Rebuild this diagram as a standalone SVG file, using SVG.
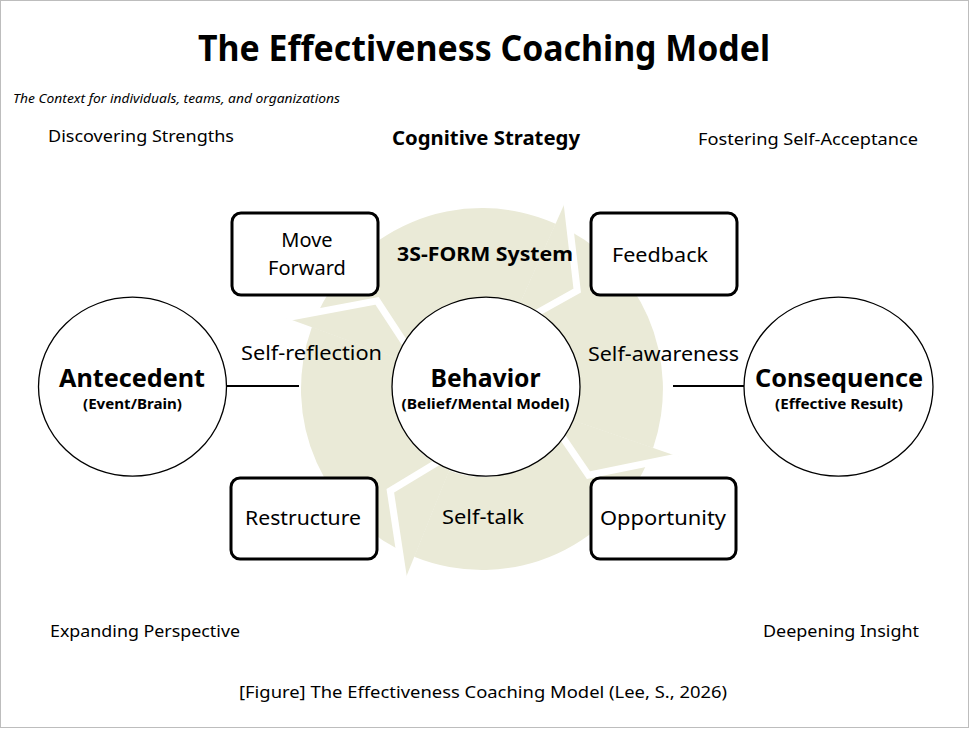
<svg xmlns="http://www.w3.org/2000/svg" width="970" height="729" viewBox="0 0 970 729">
<style>
  text { font-family: "Noto Sans", "Open Sans", "Liberation Sans", sans-serif; fill: #000; }
  .b { font-weight: bold; }
  .c { text-anchor: middle; }
  .lbl { font-size: 20px; }
  .ctx { font-size: 17px; }
  .body { fill: #EAEAD7; }
  .gap { fill: none; stroke: #fff; stroke-width: 7; stroke-linejoin: miter; }
  .box { fill: #fff; stroke: #000; stroke-width: 3; }
  .ell { fill: #fff; stroke: #000; stroke-width: 1.3; }
  .conn { stroke: #000; stroke-width: 2; }
</style>
<rect x="0.5" y="0.5" width="968" height="727" fill="#fff" stroke="#bdbdbd" stroke-width="1"/>

<text class="b c" x="484" y="61" font-size="36" textLength="572" lengthAdjust="spacingAndGlyphs">The Effectiveness Coaching Model</text>
<text x="13" y="103" font-size="12" font-style="italic" textLength="327" lengthAdjust="spacingAndGlyphs">The Context for individuals, teams, and organizations</text>

<text class="ctx" x="48" y="142" textLength="186" lengthAdjust="spacingAndGlyphs">Discovering Strengths</text>
<text class="b c" x="486" y="145" font-size="19" textLength="188" lengthAdjust="spacingAndGlyphs">Cognitive Strategy</text>
<text class="ctx" x="698" y="145" textLength="220" lengthAdjust="spacingAndGlyphs">Fostering Self-Acceptance</text>
<text class="ctx" x="50" y="637" textLength="190" lengthAdjust="spacingAndGlyphs">Expanding Perspective</text>
<text class="ctx" x="763" y="637" textLength="156" lengthAdjust="spacingAndGlyphs">Deepening Insight</text>
<text class="ctx" x="239" y="698" textLength="488" lengthAdjust="spacingAndGlyphs">[Figure] The Effectiveness Coaching Model (Lee, S., 2026)</text>

<g id="cycle">
  <!-- bodies -->
  <path class="body" d="M311.9,327.1 A181,181 0 0 1 555.6,223.7 L517.8,308.6 A88,88 0 0 0 399.3,358.9 Z"/>
  <path class="body" d="M555.6,223.7 A181,181 0 0 1 653.1,447.9 L565.2,417.7 A88,88 0 0 0 517.8,308.6 Z"/>
  <path class="body" d="M653.1,447.9 A181,181 0 0 1 414.2,556.8 L449.0,470.6 A88,88 0 0 0 565.2,417.7 Z"/>
  <path class="body" d="M414.2,556.8 A181,181 0 0 1 311.9,327.1 L399.3,358.9 A88,88 0 0 0 449.0,470.6 Z"/>
  <!-- heads -->
  <polygon class="body" points="566.6,199.0 577.2,290.5 508.8,328.7"/>
  <polygon class="body" points="678.7,456.7 588.5,475.2 544.4,410.5"/>
  <polygon class="body" points="404.1,581.9 390.3,490.8 457.3,450.2"/>
  <polygon class="body" points="286.5,317.9 377.1,300.9 420.0,366.4"/>
  <!-- gaps -->
  <polyline class="gap" points="566.6,199.0 577.2,290.5 508.8,328.7"/>
  <polyline class="gap" points="678.7,456.7 588.5,475.2 544.4,410.5"/>
  <polyline class="gap" points="404.1,581.9 390.3,490.8 457.3,450.2"/>
  <polyline class="gap" points="286.5,317.9 377.1,300.9 420.0,366.4"/>
  <!-- restore heads under gap on own side -->
</g>

<g id="connectors">
  <line class="conn" x1="226" y1="386" x2="299" y2="386"/>
  <line class="conn" x1="673" y1="386" x2="744" y2="386"/>
</g>

<text class="b c" x="485" y="261" font-size="19" textLength="176" lengthAdjust="spacingAndGlyphs">3S-FORM System</text>
<text class="lbl" x="241" y="360" textLength="141" lengthAdjust="spacingAndGlyphs">Self-reflection</text>
<text class="lbl" x="588" y="361" textLength="151" lengthAdjust="spacingAndGlyphs">Self-awareness</text>
<text class="lbl" x="442" y="524" textLength="82" lengthAdjust="spacingAndGlyphs">Self-talk</text>

<g id="move-forward">
  <rect class="box" x="232" y="213" width="146" height="82" rx="9"/>
  <text class="lbl c" x="307" y="247">Move</text>
  <text class="lbl c" x="307" y="275">Forward</text>
</g>
<g id="feedback">
  <rect class="box" x="591" y="213" width="146" height="82" rx="9"/>
  <text class="lbl c" x="660" y="262" font-size="21" textLength="96" lengthAdjust="spacingAndGlyphs">Feedback</text>
</g>
<g id="restructure">
  <rect class="box" x="231" y="478" width="146" height="81" rx="9"/>
  <text class="lbl c" x="303" y="525" textLength="116" lengthAdjust="spacingAndGlyphs">Restructure</text>
</g>
<g id="opportunity">
  <rect class="box" x="591" y="478" width="145" height="81" rx="9"/>
  <text class="lbl c" x="663" y="525" textLength="126" lengthAdjust="spacingAndGlyphs">Opportunity</text>
</g>

<g id="antecedent">
  <ellipse class="ell" cx="132.5" cy="386.7" rx="94" ry="89.5"/>
  <text class="b c" x="132" y="387" font-size="25" textLength="146" lengthAdjust="spacingAndGlyphs">Antecedent</text>
  <text class="b c" x="132.5" y="409" font-size="14" textLength="99" lengthAdjust="spacingAndGlyphs">(Event/Brain)</text>
</g>
<g id="behavior">
  <ellipse class="ell" cx="486" cy="386.7" rx="94" ry="89.5"/>
  <text class="b c" x="485.5" y="387" font-size="25" textLength="110" lengthAdjust="spacingAndGlyphs">Behavior</text>
  <text class="b c" x="485.5" y="409" font-size="14" textLength="168" lengthAdjust="spacingAndGlyphs">(Belief/Mental Model)</text>
</g>
<g id="consequence">
  <ellipse class="ell" cx="838.5" cy="386.7" rx="94.5" ry="89.5"/>
  <text class="b c" x="839" y="387" font-size="25" textLength="168" lengthAdjust="spacingAndGlyphs">Consequence</text>
  <text class="b c" x="839" y="409" font-size="14" textLength="128" lengthAdjust="spacingAndGlyphs">(Effective Result)</text>
</g>
</svg>
